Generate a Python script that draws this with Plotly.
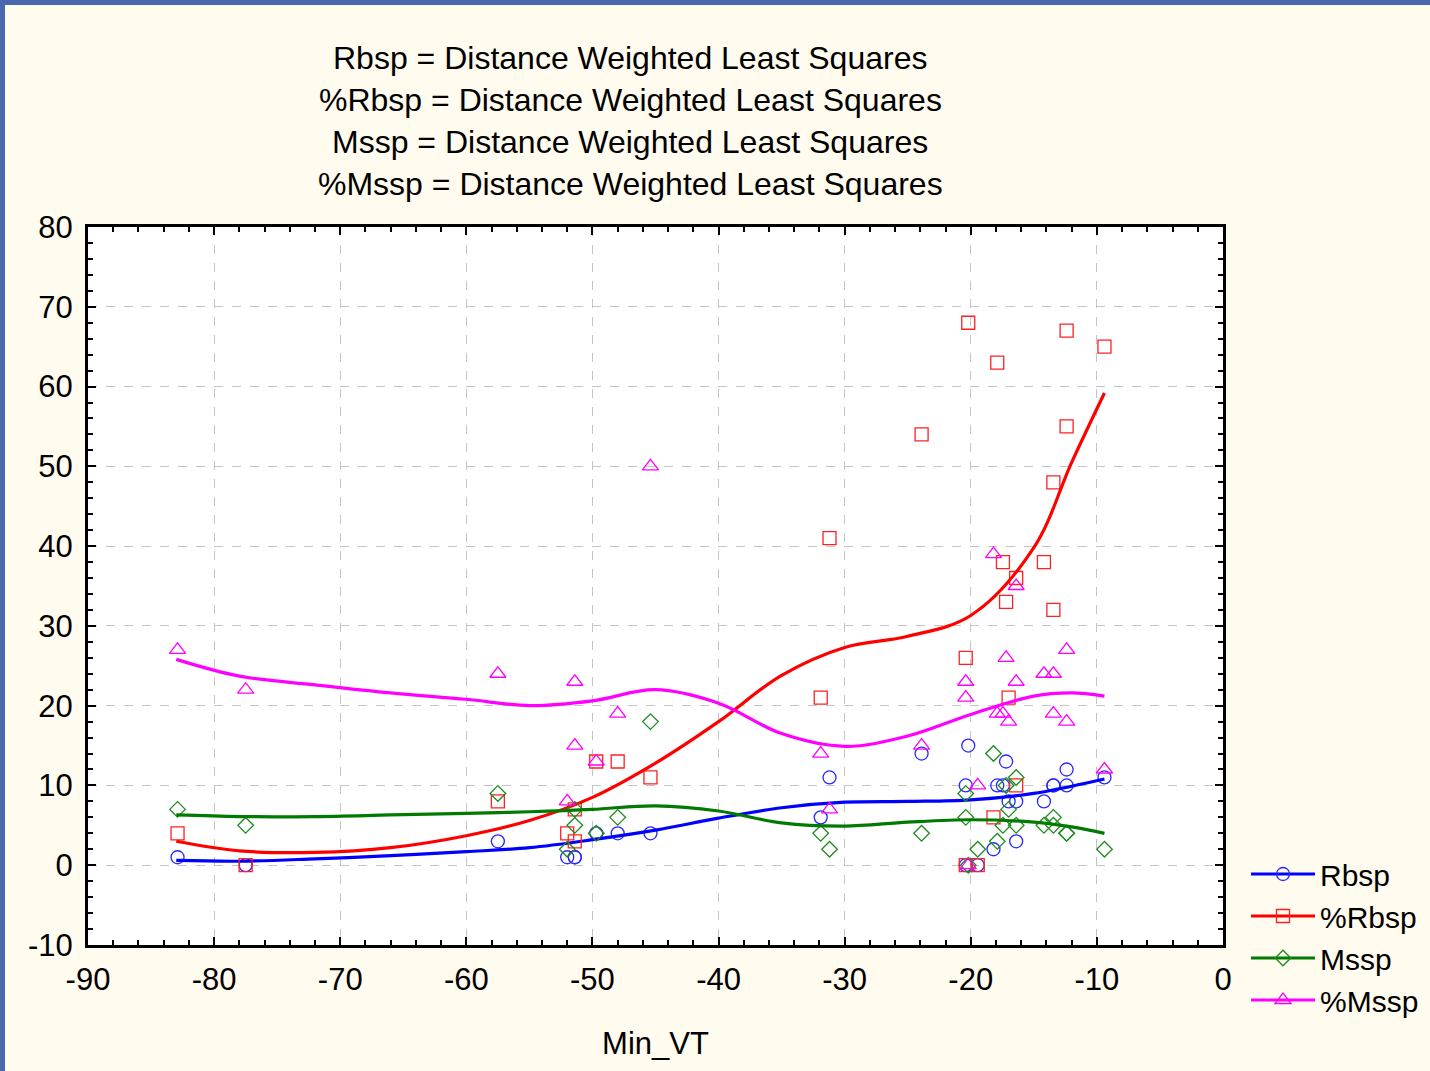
import plotly.graph_objects as go

# ---- observations (Min_VT and the four responses) ----
min_vt = [-82.9, -77.5, -57.5, -52.0, -51.4, -51.4, -49.7, -48.0, -45.4,
          -31.9, -31.2, -23.9, -20.2, -20.4, -20.4, -19.45, -18.2, -17.9,
          -17.45, -17.2, -17.0, -16.4, -16.4, -14.2, -13.45, -13.45, -12.4,
          -12.4, -9.4]
rbsp = [1, 0, 3, 1, 1, 1, 4, 4, 4, 6, 11, 14, 15, 10, 0, 0, 2, 10,
        10, 13, 8, 8, 3, 8, 10, 10, 12, 10, 11]
pct_rbsp = [4, 0, 8, 4, 7, 3, 13, 13, 11, 21, 41, 54, 68, 26, 0, 0, 6, 63,
            38, 33, 21, 36, 10, 38, 48, 32, 67, 55, 65]
mssp = [7, 5, 9, 2, 7, 5, 4, 6, 18, 4, 2, 4, 0, 9, 6, 2, 14, 3,
        5, 10, 7, 11, 5, 5, 6, 5, 4, 4, 2]
pct_mssp = [27, 22, 24, 8, 23, 15, 13, 19, 50, 14, 7, 15, 0, 23, 21, 10, 39, 19,
            19, 26, 18, 35, 23, 24, 24, 19, 27, 18, 12]

# ---- distance weighted least squares fits, sampled along Min_VT ----
fit_x = [-83, -78, -72, -66, -60, -55, -50, -45, -40, -35, -30, -25, -20,
         -15, -12, -9.4]
fit_rbsp = [0.6, 0.5, 0.8, 1.2, 1.7, 2.2, 3.2, 4.4, 5.9, 7.2, 7.9, 8.0, 8.2,
            9.0, 9.9, 10.8]
fit_pct_rbsp = [3.0, 1.8, 1.6, 2.2, 3.7, 5.6, 8.5, 12.8, 18.0, 23.8, 27.3,
                28.7, 31.3, 39.8, 50.5, 59.2]
fit_mssp = [6.3, 6.1, 6.1, 6.3, 6.5, 6.7, 7.0, 7.45, 6.8, 5.3, 4.9, 5.4, 5.7,
            5.4, 4.8, 4.0]
fit_pct_mssp = [25.8, 23.7, 22.6, 21.6, 20.8, 20.0, 20.6, 22.0, 20.3, 16.5,
                14.9, 16.2, 18.9, 21.2, 21.6, 21.2]

# ---- axis ticks ----
x_ticks = [-90, -80, -70, -60, -50, -40, -30, -20, -10, 0]
x_tick_text = ["-90", "-80", "-70", "-60", "-50", "-40", "-30", "-20", "-10", "0"]
y_ticks = [-10, 0, 10, 20, 30, 40, 50, 60, 70, 80]
y_tick_text = ["-10", "0", "10", "20", "30", "40", "50", "60", "70", "80"]

title_lines = [
    "Rbsp = Distance Weighted Least Squares",
    "%Rbsp = Distance Weighted Least Squares",
    "Mssp = Distance Weighted Least Squares",
    "%Mssp = Distance Weighted Least Squares",
]

FONT = "Liberation Sans, Arial, sans-serif"

series = [
    ("Rbsp", rbsp, fit_rbsp, "#0000FF", "#2828FF", "circle-open", 13),
    ("%Rbsp", pct_rbsp, fit_pct_rbsp, "#FF0000", "#FF2020", "square-open", 13),
    ("Mssp", mssp, fit_mssp, "#007A00", "#1E8C1E", "diamond-open", 12),
    ("%Mssp", pct_mssp, fit_pct_mssp, "#FF00FF", "#FF00FF", "triangle-up-open", 14),
]

fig = go.Figure()
for name, vals, fit, lcol, mcol, sym, msize in series:
    fig.add_trace(go.Scatter(
        x=min_vt, y=vals, mode="markers", name=name, legendgroup=name,
        showlegend=False,
        marker=dict(symbol=sym, size=msize, color=mcol, line=dict(width=1.3, color=mcol)),
    ))
    fig.add_trace(go.Scatter(
        x=fit_x, y=fit, mode="lines", name=name, legendgroup=name,
        showlegend=False,
        line=dict(color=lcol, width=3.2, shape="spline", smoothing=1.0),
    ))

# legend entries showing line and marker together
for name, vals, fit, lcol, mcol, sym, msize in series:
    fig.add_trace(go.Scatter(
        x=[None], y=[None], mode="lines+markers", name=name, legendgroup=name,
        line=dict(color=lcol, width=3),
        marker=dict(symbol=sym, size=msize, color=mcol,
                    line=dict(width=1.3, color=mcol)),
    ))

# plot area spans x 88..1223 px, y 227..945 px
L, R, T, B = 88, 1223, 227, 945
W, H = 1430, 1071


def px_x(p):
    return (p - L) / (R - L)


def px_y(p):
    return (B - p) / (B - T)


title_y = [58, 100, 142, 184]
annotations = []
for text, yy in zip(title_lines, title_y):
    annotations.append(dict(
        text=text, x=px_x(630), y=px_y(yy), xref="paper", yref="paper",
        xanchor="center", yanchor="middle", showarrow=False,
        font=dict(family=FONT, size=32, color="black"),
    ))

shapes = [
    # blue frame bands along the top and left edges of the page
    dict(type="rect", xref="paper", yref="paper", layer="above",
         x0=px_x(0), x1=px_x(W), y0=px_y(0), y1=px_y(5),
         fillcolor="#4A68B2", line=dict(width=0)),
    dict(type="rect", xref="paper", yref="paper", layer="above",
         x0=px_x(0), x1=px_x(5), y0=px_y(0), y1=px_y(H),
         fillcolor="#4A68B2", line=dict(width=0)),
]

axis_common = dict(
    showline=True, linewidth=3, linecolor="black", mirror="ticks",
    ticks="inside", ticklen=8, tickwidth=2, tickcolor="black",
    showgrid=True, gridcolor="#C4C4C4", gridwidth=1, griddash="dash",
    zeroline=False, tickfont=dict(family=FONT, size=31, color="black"),
    tickmode="array", automargin=False,
)

fig.update_layout(
    width=W, height=H,
    margin=dict(l=L, r=W - R, t=T, b=H - B, pad=0, autoexpand=False),
    paper_bgcolor="#FFFBEF",
    plot_bgcolor="white",
    font=dict(family=FONT, size=30, color="black"),
    xaxis=dict(
        range=[-90, 0], tickvals=x_ticks, ticktext=x_tick_text,
        minor=dict(dtick=2, ticks="inside", ticklen=5, tickwidth=2,
                   tickcolor="black", showgrid=False),
        ticklabelstandoff=5,
        title=dict(text="Min_VT", font=dict(family=FONT, size=31), standoff=37),
        **axis_common,
    ),
    yaxis=dict(
        range=[-10, 80], tickvals=y_ticks, ticktext=y_tick_text,
        minor=dict(dtick=2, ticks="inside", ticklen=5, tickwidth=2,
                   tickcolor="black", showgrid=False),
        ticklabelstandoff=6,
        **axis_common,
    ),
    legend=dict(
        x=px_x(1246), y=px_y(848), xanchor="left", yanchor="top",
        bgcolor="rgba(0,0,0,0)", borderwidth=0,
        font=dict(family=FONT, size=30, color="black"),
        itemwidth=64, tracegroupgap=0,
    ),
    annotations=annotations,
    shapes=shapes,
    showlegend=True,
)

fig.write_html("out.html")
